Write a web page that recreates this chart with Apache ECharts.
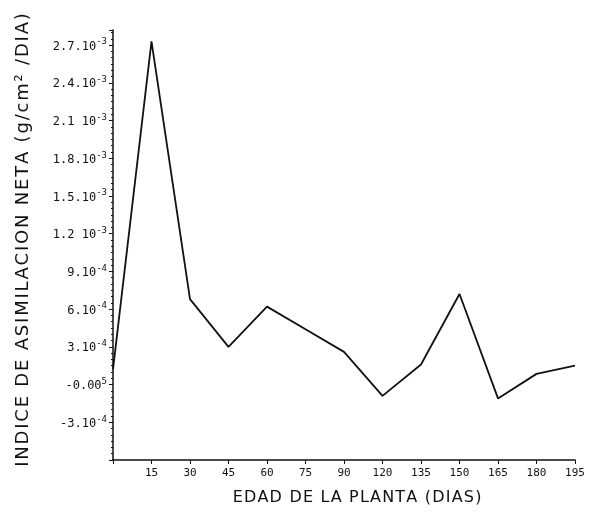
<!DOCTYPE html>
<html>
<head>
<meta charset="utf-8">
<script src="https://cdn.jsdelivr.net/npm/echarts@6/dist/echarts.min.js"></script>
<style>
  html, body { margin: 0; padding: 0; background: #fff; }
  #chart { width: 592px; height: 522px; }
</style>
</head>
<body>
<div id="chart"></div>
<script>
"use strict";
// ---- data ----
const DAYS = ["0", "15", "30", "45", "60", "75", "90", "120", "135", "150", "165", "180", "195"];
const IAN = [1.2e-4, 27.3e-4, 6.8e-4, 3.0e-4, 6.2e-4, 4.4e-4, 2.6e-4, -0.9e-4, 1.6e-4, 7.2e-4, -1.1e-4, 0.85e-4, 1.5e-4];
// tick labels, from -3.10^-4 upward in steps of 3.10^-4: [base, superscript]
const Y_TICK_LABELS = [
  ["-3.10", "-4"], ["-0.00", "5"], ["3.10", "-4"], ["6.10", "-4"], ["9.10", "-4"],
  ["1.2 10", "-3"], ["1.5.10", "-3"], ["1.8.10", "-3"], ["2.1 10", "-3"], ["2.4.10", "-3"], ["2.7.10", "-3"]];
const STEP = 3e-4;
const X_TITLE = "EDAD DE LA PLANTA (DIAS)";
const Y_TITLE = "INDICE DE ASIMILACION NETA (g/cm² /DIA)";

const INK = "#111";

// the scanned titles are letter-spaced; zrender has no letterSpacing, so each
// character becomes its own rich fragment with a little side padding
const spaced = (txt) => txt.split("").map((c) => `{c|${c}}`).join("");

const chart = echarts.init(document.getElementById("chart"), null, { renderer: "canvas" });

chart.setOption({
  animation: false,
  backgroundColor: "#fff",
  grid: { left: 113, right: 17, top: 30, bottom: 62, outerBoundsMode: "none", containLabel: false },
  xAxis: {
    type: "category", data: DAYS, boundaryGap: false,
    name: spaced(X_TITLE), nameLocation: "middle", nameGap: 29,
    nameTextStyle: { padding: [0, 0, 0, 26],
      rich: { c: { fontFamily: "DejaVu Sans", fontSize: 16, color: INK, padding: [0, 0.6, 0, 0.6], lineHeight: 18 } } },
    axisLine: { onZero: false, lineStyle: { color: INK, width: 1.5 } },
    axisTick: { length: 4, lineStyle: { color: INK }, interval: 0 },
    axisLabel: { margin: 8, fontFamily: "DejaVu Sans Mono", fontSize: 11, color: INK, interval: 0,
      formatter: (v) => (v === "0" ? "" : v) },
    splitLine: { show: false }
  },
  yAxis: {
    type: "value", min: -6e-4, max: 2.82e-3, interval: STEP,
    name: spaced(Y_TITLE), nameLocation: "middle", nameGap: 80,
    nameTextStyle: { padding: [0, 0, 0, 10],
      rich: { c: { fontFamily: "DejaVu Sans", fontSize: 18, color: INK, padding: [0, 0.9, 0, 0.9], lineHeight: 20 } } },
    axisLine: { show: true, lineStyle: { color: INK, width: 1.5 } },
    axisTick: { show: true, length: 4, lineStyle: { color: INK } },
    minorTick: { show: true, splitNumber: 6, length: 2, lineStyle: { color: INK } },
    splitLine: { show: false },
    axisLabel: {
      margin: 6, color: INK,
      formatter: (v) => {
        const k = Math.round(v / STEP);
        const lab = Y_TICK_LABELS[k + 1];
        if (!lab || Math.abs(v - k * STEP) > 1e-9) return "";
        return `{b|${lab[0]}}{s|${lab[1]}}`;
      },
      rich: {
        b: { fontFamily: "DejaVu Sans Mono", fontSize: 12, color: INK, lineHeight: 15, verticalAlign: "bottom" },
        s: { fontFamily: "DejaVu Sans Mono", fontSize: 9, color: INK, verticalAlign: "top" }
      }
    }
  },
  series: [{
    type: "line", data: IAN, showSymbol: false,
    lineStyle: { color: INK, width: 1.8 }
  }]
});
</script>
</body>
</html>
